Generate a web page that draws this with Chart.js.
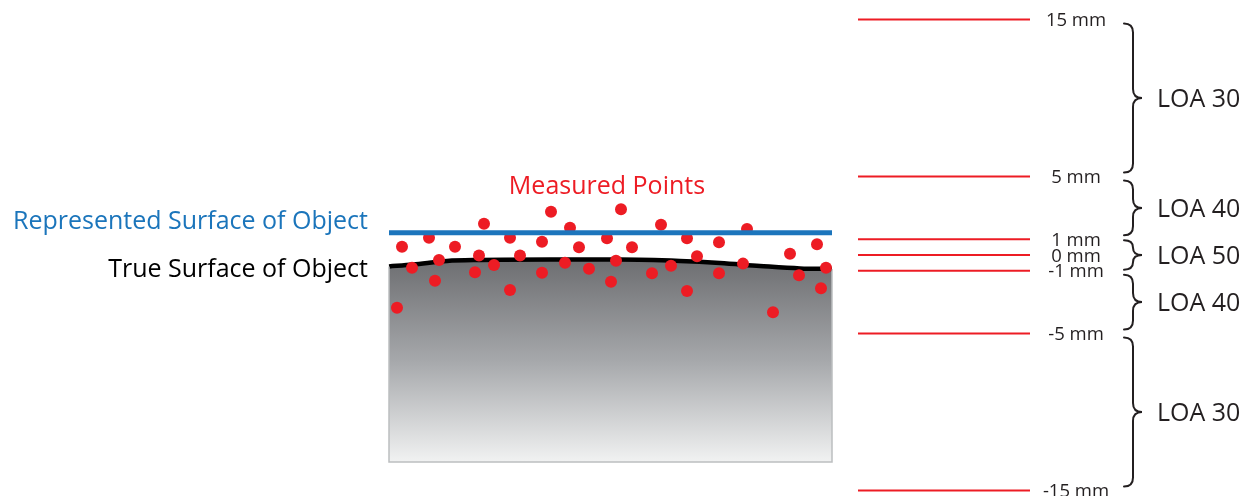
<!DOCTYPE html>
<html>
<head>
<meta charset="utf-8">
<script src="https://cdn.jsdelivr.net/npm/chart.js@4.4.1/dist/chart.umd.min.js"></script>
<style>
  html, body { margin: 0; padding: 0; background: #ffffff; }
  #wrap { width: 1251px; height: 496px; position: relative; }
</style>
</head>
<body>
<div id="wrap"><canvas id="c"></canvas></div>
<script>
// ---- data (y values in mm, x = horizontal position across the figure) ----
const mmLevels = [15, 5, 1, 0, -1, -5, -15];
const mmLabels = ['15 mm', '5 mm', '1 mm', '0 mm', '-1 mm', '-5 mm', '-15 mm'];
const loaFrom = [15, 5, 1, -1, -5];
const loaTo = [5, 1, -1, -5, -15];
const loaLabels = ['LOA 30', 'LOA 40', 'LOA 50', 'LOA 40', 'LOA 30'];

const pointX = [402, 429, 455, 484, 510, 542, 551, 570, 579, 607, 621, 632, 661, 687, 719, 747, 790, 817,
                412, 439, 435, 479, 475, 494, 520, 510, 542, 565, 589, 616, 611, 652, 671, 697, 719, 687, 743, 799, 826, 821, 397, 773];
const pointY = [0.53, 1.10, 0.53, 1.99, 1.10, 0.85, 2.76, 1.74, 0.49, 1.06, 2.91, 0.49, 1.93, 1.06, 0.81, 1.66, 0.08, 0.68,
                -0.81, -0.32, -1.64, -0.04, -1.10, -0.64, -0.04, -2.23, -1.13, -0.49, -0.87, -0.36, -1.70, -1.17, -0.68, -0.08, -1.17, -2.29, -0.55, -1.29, -0.81, -2.12, -3.36, -3.65];

const surfaceX = [389, 413, 447, 480, 550, 620, 680, 720, 760, 800, 832];
const surfaceY = [-0.73, -0.61, -0.38, -0.32, -0.29, -0.29, -0.38, -0.51, -0.70, -0.86, -0.89];

const representedLevel = 1.42;
const objectBottom = -13.18;
const objectLeft = 389;
const objectRight = 832;

// ---- derived datasets ----
const toXY = (xs, ys) => xs.map((v, i) => ({ x: v, y: ys[i] }));
const RED = '#ed1c24';
const FONT = '"Open Sans", "Noto Sans", sans-serif';

function objectGradient(context) {
  const chart = context.chart;
  const { ctx, chartArea, scales } = chart;
  if (!chartArea) return '#9d9fa2';
  const top = scales.y.getPixelForValue(-0.3);
  const bottom = scales.y.getPixelForValue(objectBottom);
  const g = ctx.createLinearGradient(0, top, 0, bottom);
  g.addColorStop(0, '#6d6e71');
  g.addColorStop(0.5, '#a6a8ab');
  g.addColorStop(1, '#f1f2f2');
  return g;
}

const datasets = [];
// represented surface (top-most)
datasets.push({
  data: [{ x: objectLeft, y: representedLevel }, { x: objectRight, y: representedLevel }],
  showLine: true, borderColor: '#1c75bc', borderWidth: 5, pointRadius: 0, order: 0
});
// measured points
datasets.push({
  data: toXY(pointX, pointY),
  backgroundColor: RED, borderWidth: 0, pointRadius: 6, pointHoverRadius: 6, order: 1
});
// object outline
datasets.push({
  data: [{ x: objectLeft, y: surfaceY[0] }, { x: objectLeft, y: objectBottom },
         { x: objectRight, y: objectBottom }, { x: objectRight, y: surfaceY[surfaceY.length - 1] }],
  showLine: true, borderColor: '#bcbec0', borderWidth: 1.5, pointRadius: 0, order: 2
});
// true surface with filled object body
datasets.push({
  data: toXY(surfaceX, surfaceY),
  showLine: true, borderColor: '#000000', borderWidth: 4.5, pointRadius: 0,
  cubicInterpolationMode: 'monotone',
  fill: { value: objectBottom }, backgroundColor: objectGradient, order: 3
});
// tolerance reference lines
mmLevels.forEach((v) => {
  datasets.push({
    data: [{ x: 858, y: v }, { x: 1030, y: v }],
    showLine: true, borderColor: RED, borderWidth: 2, pointRadius: 0, order: 4
  });
});

// ---- annotation plugin: labels and braces ----
function drawBrace(ctx, xTip, xPoint, yTop, yBot) {
  const xBody = xTip + (xPoint - xTip) * 0.5;
  const ym = (yTop + yBot) / 2;
  const r = Math.min(9, (yBot - yTop) / 4);
  ctx.beginPath();
  ctx.moveTo(xTip, yTop);
  ctx.quadraticCurveTo(xBody, yTop, xBody, yTop + r);
  ctx.lineTo(xBody, ym - r);
  ctx.quadraticCurveTo(xBody, ym, xPoint, ym);
  ctx.quadraticCurveTo(xBody, ym, xBody, ym + r);
  ctx.lineTo(xBody, yBot - r);
  ctx.quadraticCurveTo(xBody, yBot, xTip, yBot);
  ctx.stroke();
}

const diagramLabels = {
  id: 'diagramLabels',
  afterDatasetsDraw(chart) {
    const { ctx, scales: { x, y } } = chart;
    ctx.save();
    ctx.textBaseline = 'alphabetic';

    // mm labels
    ctx.font = '18.5px ' + FONT;
    ctx.fillStyle = '#231f20';
    ctx.textAlign = 'center';
    mmLevels.forEach((v, i) => {
      ctx.fillText(mmLabels[i], x.getPixelForValue(1076), y.getPixelForValue(v) + 6.6);
    });

    // braces + LOA labels
    ctx.strokeStyle = '#231f20';
    ctx.lineWidth = 2;
    ctx.lineCap = 'round';
    ctx.font = '25px ' + FONT;
    ctx.textAlign = 'left';
    loaFrom.forEach((a, i) => {
      const y0 = y.getPixelForValue(a);
      const y1 = y.getPixelForValue(loaTo[i]);
      const inset = (y1 - y0) > 40 ? 4 : 1;
      drawBrace(ctx, x.getPixelForValue(1124), x.getPixelForValue(1142), y0 + inset, y1 - inset);
      ctx.fillText(loaLabels[i], x.getPixelForValue(1157), (y0 + y1) / 2 + 9);
    });

    // figure captions
    ctx.font = '25px ' + FONT;
    ctx.fillStyle = RED;
    ctx.textAlign = 'center';
    ctx.fillText('Measured Points', x.getPixelForValue(607), y.getPixelForValue(3.9));

    ctx.fillStyle = '#1b75bb';
    ctx.textAlign = 'right';
    ctx.fillText('Represented Surface of Object', x.getPixelForValue(368), y.getPixelForValue(1.68));

    ctx.fillStyle = '#000000';
    ctx.fillText('True Surface of Object', x.getPixelForValue(368), y.getPixelForValue(-1.4));
    ctx.restore();
  }
};

new Chart(document.getElementById('c'), {
  type: 'scatter',
  data: { datasets },
  options: {
    responsive: true,
    maintainAspectRatio: false,
    animation: false,
    events: [],
    layout: { padding: 0, autoPadding: false },
    plugins: { legend: { display: false }, tooltip: { enabled: false } },
    scales: {
      x: { type: 'linear', min: 0, max: 1251, display: false },
      y: { type: 'linear', min: -15.35, max: 16.24, display: false }
    }
  },
  plugins: [diagramLabels]
});
</script>
</body>
</html>
